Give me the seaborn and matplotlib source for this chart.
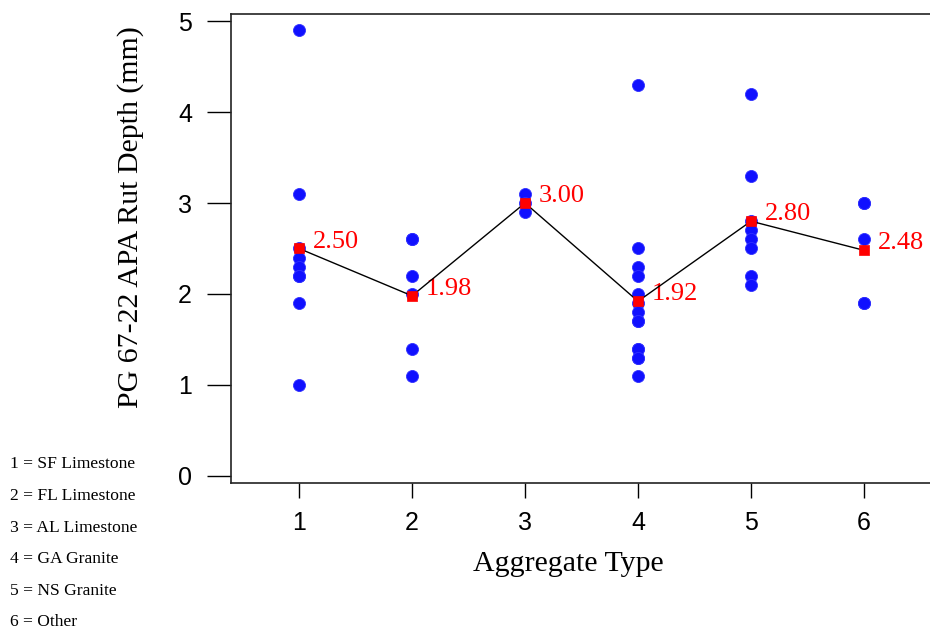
import matplotlib
matplotlib.use("Agg")
import matplotlib.pyplot as plt
import seaborn as sns
import pandas as pd

# ---- data ----
agg_types = [1, 2, 3, 4, 5, 6]
rut_1 = [4.9, 3.1, 2.5, 2.4, 2.3, 2.2, 2.2, 1.9, 1.0]
rut_2 = [2.6, 2.6, 2.2, 2.0, 1.4, 1.1]
rut_3 = [3.1, 3.0, 2.9]
rut_4 = [4.3, 2.5, 2.3, 2.2, 2.0, 1.9, 1.8, 1.7, 1.7, 1.4, 1.4, 1.3, 1.3, 1.1]
rut_5 = [4.2, 3.3, 2.8, 2.7, 2.6, 2.5, 2.2, 2.1]
rut_6 = [3.0, 3.0, 2.6, 1.9, 1.9]
mean_values = [2.50, 1.98, 3.00, 1.92, 2.80, 2.48]
mean_labels = ["2.50", "1.98", "3.00", "1.92", "2.80", "2.48"]
legend_lines = ["1 = SF Limestone", "2 = FL Limestone", "3 = AL Limestone",
                "4 = GA Granite", "5 = NS Granite", "6 = Other"]
y_ticks = [0, 1, 2, 3, 4, 5]

groups = [rut_1, rut_2, rut_3, rut_4, rut_5, rut_6]
points = pd.DataFrame({
    "agg": [t for t, g in zip(agg_types, groups) for _ in g],
    "rut": [v for g in groups for v in g],
})
means = pd.DataFrame({"agg": agg_types, "rut": mean_values})

sns.set_style("white")
plt.rcParams["text.color"] = "black"
plt.rcParams["axes.labelcolor"] = "black"
plt.rcParams["xtick.color"] = "black"
plt.rcParams["ytick.color"] = "black"
serif = ["Liberation Serif", "DejaVu Serif"]
sans = ["Liberation Sans", "DejaVu Sans"]

fig = plt.figure(figsize=(9.3, 6.31), dpi=100)
ax = fig.add_axes([231 / 930, 1 - 483 / 631, 1 - 231 / 930, (483 - 14) / 631])

sns.scatterplot(data=points, x="agg", y="rut", ax=ax, color="#1010ff",
                s=75, edgecolor="#3030ff", linewidth=0.6, zorder=3, legend=False)
sns.lineplot(data=means, x="agg", y="rut", ax=ax, color="black",
             linewidth=1.0, zorder=4, legend=False)
sns.scatterplot(data=means, x="agg", y="rut", ax=ax, marker="s", color="#ff0000",
                s=60, edgecolor="#ff0000", linewidth=0.5, zorder=5, legend=False)

for x, y, lab in zip(agg_types, mean_values, mean_labels):
    ax.annotate(lab, (x, y), xytext=(14, 7), textcoords="offset pixels",
                color="red", fontsize=19, family=serif, ha="left", va="center")

ax.set_xlim(0.398, 6.584)
ax.set_ylim(-0.077, 5.077)
ax.set_xticks(agg_types)
ax.set_yticks(y_ticks)
ax.set_xticklabels([str(t) for t in agg_types], family=sans, fontsize=18)
ax.set_yticklabels([str(t) for t in y_ticks], family=sans, fontsize=18)
ax.tick_params(axis="x", direction="out", length=11, width=1, pad=9, bottom=True,
               colors="black")
ax.tick_params(axis="y", direction="out", length=17, width=1, pad=11, left=True,
               colors="black")

for side in ["top", "left", "bottom"]:
    ax.spines[side].set_visible(True)
    ax.spines[side].set_color("#222222")
    ax.spines[side].set_linewidth(1.2)
ax.spines["right"].set_visible(False)

ax.set_xlabel("Aggregate Type", family=serif, fontsize=21.5, color="black")
ax.set_ylabel("PG 67-22 APA Rut Depth (mm)", family=serif, fontsize=21.5, color="black")
ax.xaxis.set_label_coords(0.482, -0.145)
ax.yaxis.set_label_coords(-0.125, 0.567)

for i, line in enumerate(legend_lines):
    fig.text(10 / 930, 1 - (464.5 + i * 31.6) / 631, line, family=serif,
             fontsize=12.6, ha="left", va="center", color="black")

fig.savefig("out.png", dpi=100)
